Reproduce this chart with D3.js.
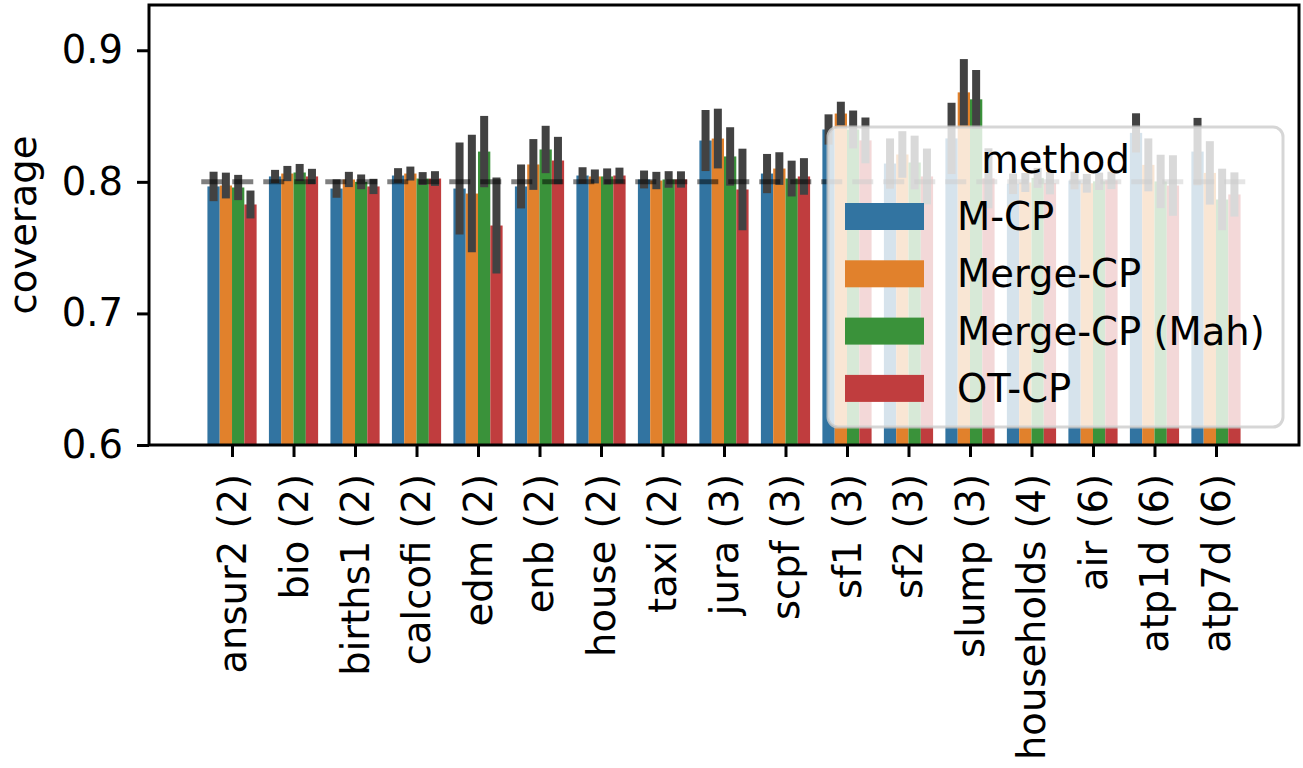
<!DOCTYPE html>
<html>
<head>
<meta charset="utf-8">
<script src="https://cdn.jsdelivr.net/npm/d3@7"></script>
<style>
  body { margin: 0; background: #fff; }
  text { font-family: "DejaVu Sans", sans-serif; }
</style>
</head>
<body>
<div id="container"></div>
<script>
const categories = ["ansur2 (2)", "bio (2)", "births1 (2)", "calcofi (2)", "edm (2)", "enb (2)", "house (2)", "taxi (2)", "jura (3)", "scpf (3)", "sf1 (3)", "sf2 (3)", "slump (3)", "households (4)", "air (6)", "atp1d (6)", "atp7d (6)"]
const methods = ["M-CP", "Merge-CP", "Merge-CP (Mah)", "OT-CP"]

// mean coverage per dataset
const mcp      = [0.7965, 0.8041, 0.7949, 0.8048, 0.7949, 0.7965, 0.8048, 0.8018, 0.8314, 0.8063, 0.8398, 0.8139, 0.8330, 0.7985, 0.8010, 0.8372, 0.8230]
const merge    = [0.7972, 0.8063, 0.8018, 0.8063, 0.7911, 0.8132, 0.8041, 0.8010, 0.8329, 0.8101, 0.8519, 0.8208, 0.8680, 0.7995, 0.7989, 0.8129, 0.8068]
const mergeMah = [0.7957, 0.8071, 0.8000, 0.8025, 0.8230, 0.8246, 0.8041, 0.8018, 0.8193, 0.8025, 0.8398, 0.8147, 0.8627, 0.8030, 0.8004, 0.8003, 0.7866]
const otcp     = [0.7828, 0.8041, 0.7965, 0.8025, 0.7668, 0.8162, 0.8048, 0.8018, 0.7942, 0.8041, 0.8315, 0.8041, 0.8027, 0.7990, 0.8011, 0.7972, 0.7904]

// half width of the error bars
const mcpErr      = [0.0112, 0.0050, 0.0070, 0.0056, 0.0350, 0.0167, 0.0063, 0.0068, 0.0232, 0.0149, 0.0115, 0.0191, 0.0271, 0.0078, 0.0067, 0.0149, 0.0256]
const mergeErr    = [0.0098, 0.0058, 0.0058, 0.0053, 0.0447, 0.0193, 0.0053, 0.0066, 0.0227, 0.0124, 0.0090, 0.0177, 0.0253, 0.0072, 0.0071, 0.0201, 0.0241]
const mergeMahErr = [0.0096, 0.0065, 0.0056, 0.0049, 0.0271, 0.0180, 0.0061, 0.0063, 0.0222, 0.0136, 0.0144, 0.0204, 0.0223, 0.0076, 0.0066, 0.0203, 0.0234]
const otcpErr     = [0.0106, 0.0058, 0.0058, 0.0056, 0.0365, 0.0180, 0.0060, 0.0062, 0.0310, 0.0139, 0.0174, 0.0212, 0.0228, 0.0085, 0.0066, 0.0230, 0.0168]

const yTicks = [0.6, 0.7, 0.8, 0.9]
const target = 0.8

const means = [mcp, merge, mergeMah, otcp]
const errs = [mcpErr, mergeErr, mergeMahErr, otcpErr]
const colors = ["#3274a1", "#e1812c", "#3a923a", "#c03d3e"]

const width = 1303
const height = 768
const mLeft = 149, mRight = 1299, mTop = 5, mBottom = 445
const fs = 38.5

let svg = d3.select("#container")
    .append("svg")
    .attr("width", width)
    .attr("height", height)
    .style("display", "block")

let xScale = d3.scaleLinear()
    .domain([-1.35, categories.length - 1 + 1.35])
    .range([mLeft, mRight])

let yScale = d3.scaleLinear()
    .domain([0.6, 0.9344])
    .range([mBottom, mTop])

let rows = []
categories.forEach((c, i) => {
    methods.forEach((m, j) => {
        rows.push({cat: i, m: j, v: means[j][i], e: errs[j][i]})
    })
})

const barW = 0.2

let plot = svg.append("g")

plot.selectAll("rect.bar")
    .data(rows)
    .enter()
    .append("rect")
    .attr("class", "bar")
    .attr("x", d => xScale(d.cat - 0.4 + barW * d.m))
    .attr("width", d => xScale(barW) - xScale(0))
    .attr("y", d => yScale(d.v))
    .attr("height", d => yScale(0.6) - yScale(d.v))
    .attr("fill", d => colors[d.m])

plot.selectAll("line.err")
    .data(rows)
    .enter()
    .append("line")
    .attr("class", "err")
    .attr("x1", d => xScale(d.cat - 0.4 + barW * (d.m + 0.5)))
    .attr("x2", d => xScale(d.cat - 0.4 + barW * (d.m + 0.5)))
    .attr("y1", d => yScale(d.v - d.e))
    .attr("y2", d => yScale(d.v + d.e))
    .attr("stroke", "#424242")
    .attr("stroke-width", 8)

// target coverage line
svg.append("line")
    .attr("x1", xScale(-0.5))
    .attr("x2", xScale(categories.length - 0.5))
    .attr("y1", yScale(target))
    .attr("y2", yScale(target))
    .attr("stroke", "#000")
    .attr("stroke-opacity", 0.5)
    .attr("stroke-width", 5)
    .attr("stroke-dasharray", "21,10")

// axes
let yAxis = svg.append("g")
    .attr("transform", `translate(${mLeft},0)`)
    .call(d3.axisLeft(yScale).tickValues(yTicks).tickSize(12).tickPadding(14).tickFormat(d3.format(".1f")))
yAxis.select(".domain").remove()
yAxis.selectAll("line").attr("stroke", "#000").attr("stroke-width", 3)
yAxis.selectAll("text").attr("font-size", fs).attr("fill", "#000").attr("font-family", "DejaVu Sans")

let xAxis = svg.append("g")
    .attr("transform", `translate(0,${mBottom})`)
    .call(d3.axisBottom(xScale).tickValues(d3.range(categories.length)).tickSize(12).tickFormat(i => categories[i]))
xAxis.select(".domain").remove()
xAxis.selectAll("line").attr("stroke", "#000").attr("stroke-width", 3)
xAxis.selectAll("text")
    .attr("font-size", fs)
    .attr("fill", "#000")
    .attr("font-family", "DejaVu Sans")
    .attr("text-anchor", "end")
    .attr("transform", "rotate(-90)")
    .attr("x", -29)
    .attr("y", 0)
    .attr("dy", "0.35em")

svg.append("rect")
    .attr("x", mLeft)
    .attr("y", mTop)
    .attr("width", mRight - mLeft)
    .attr("height", mBottom - mTop)
    .attr("fill", "none")
    .attr("stroke", "#000")
    .attr("stroke-width", 3)

svg.append("text")
    .attr("transform", `translate(36,${(mTop + mBottom) / 2}) rotate(-90)`)
    .attr("text-anchor", "middle")
    .attr("font-size", fs)
    .text("coverage")

// legend
let legend = svg.append("g")
legend.append("rect")
    .attr("x", 828)
    .attr("y", 127)
    .attr("width", 455)
    .attr("height", 300)
    .attr("rx", 10)
    .attr("fill", "#fff")
    .attr("fill-opacity", 0.8)
    .attr("stroke", "#ccc")
    .attr("stroke-opacity", 0.8)
    .attr("stroke-width", 3)

legend.append("text")
    .attr("x", 1055.5)
    .attr("y", 173)
    .attr("text-anchor", "middle")
    .attr("font-size", fs)
    .text("method")

let items = legend.selectAll("g.item")
    .data(methods)
    .enter()
    .append("g")
    .attr("class", "item")
    .attr("transform", (d, i) => `translate(0,${203 + i * 57.3})`)

items.append("rect")
    .attr("x", 845)
    .attr("y", 0)
    .attr("width", 79)
    .attr("height", 27)
    .attr("fill", (d, i) => colors[i])

items.append("text")
    .attr("x", 957)
    .attr("y", 27)
    .attr("font-size", fs)
    .text(d => d)
</script>
</body>
</html>
